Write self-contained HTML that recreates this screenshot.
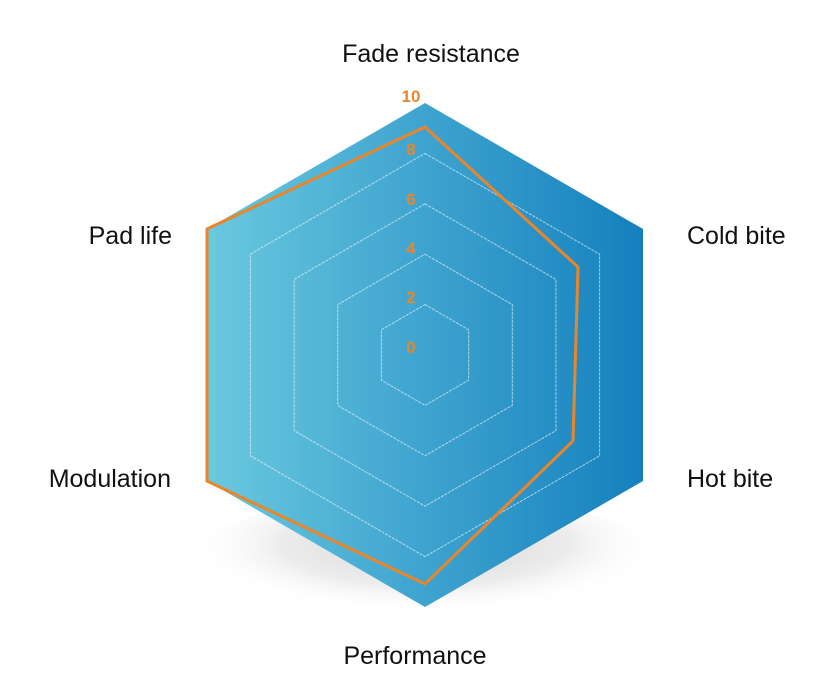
<!DOCTYPE html>
<html><head><meta charset="utf-8"><style>
html,body{margin:0;padding:0;background:#fff;}
svg{display:block}
text{font-family:"Liberation Sans",sans-serif;}
</style></head><body>
<svg width="828" height="695" viewBox="0 0 828 695" xmlns="http://www.w3.org/2000/svg">
<defs>
<linearGradient id="g" x1="0" y1="0" x2="1" y2="0">
<stop offset="0" stop-color="#6ac9de"/>
<stop offset="0.5" stop-color="#3ea3cf"/>
<stop offset="1" stop-color="#1580bd"/>
</linearGradient>
<radialGradient id="sh" cx="0.5" cy="0.35" r="0.5">
<stop offset="0" stop-color="#d6d6d6"/>
<stop offset="0.6" stop-color="#ececec"/>
<stop offset="1" stop-color="#ffffff" stop-opacity="0"/>
</radialGradient>
</defs>
<ellipse cx="425" cy="565" rx="240" ry="70" fill="url(#sh)"/>
<polygon points="425,103 643,229 643,481 425,607 207,481 207,229" fill="url(#g)"/>
<g fill="none" stroke="#ffffff" stroke-opacity="0.6" stroke-width="1" stroke-dasharray="3,1">
<polygon points="425,304.6 468.6,329.8 468.6,380.2 425,405.4 381.4,380.2 381.4,329.8"/>
<polygon points="425,254.2 512.3,304.6 512.3,405.4 425,455.8 337.7,405.4 337.7,304.6"/>
<polygon points="425,203.8 555.9,279.4 555.9,430.6 425,506.2 294.1,430.6 294.1,279.4"/>
<polygon points="425,153.4 599.6,254.2 599.6,455.8 425,556.6 250.4,455.8 250.4,254.2"/>
</g>
<polygon points="425,127 578,267 573,441 425,584 207,481 207,229" fill="none" stroke="#e9862b" stroke-width="3" stroke-linejoin="miter"/>
<g fill="#e9862b" font-size="17" font-weight="bold" text-anchor="middle">
<text x="411" y="102">10</text>
<text x="411" y="155">8</text>
<text x="411" y="205">6</text>
<text x="411" y="254">4</text>
<text x="411" y="303">2</text>
<text x="411" y="353">0</text>
</g>
<g fill="#111" font-size="25">
<text x="431" y="62" text-anchor="middle">Fade resistance</text>
<text x="687" y="244">Cold bite</text>
<text x="172" y="244" text-anchor="end">Pad life</text>
<text x="687" y="487">Hot bite</text>
<text x="171" y="487" text-anchor="end">Modulation</text>
<text x="415" y="664" text-anchor="middle">Performance</text>
</g>
</svg>
</body></html>
